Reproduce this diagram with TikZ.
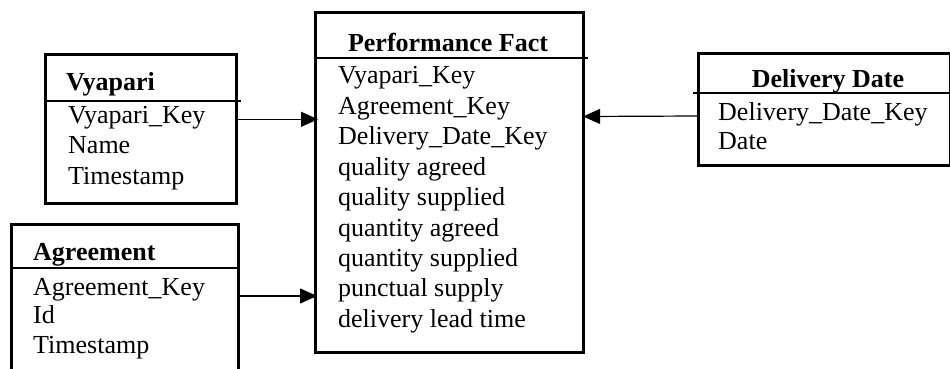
\documentclass[tikz,border=0pt]{standalone}
\usepackage{fontspec}
\setmainfont{Liberation Serif}
\usetikzlibrary{arrows.meta}
\begin{document}
\begin{tikzpicture}[x=1pt,y=-1pt,
  every node/.style={font=\fontsize{26}{30}\selectfont},
  entity/.style={draw, line width=2.6pt, rectangle, inner sep=0pt, anchor=north west},
  divider/.style={line width=1.1pt},
  title/.style={font=\fontsize{26}{30}\selectfont\bfseries, inner sep=0pt, anchor=base},
  attr/.style={inner sep=0pt, anchor=base west},
  link/.style={line width=1.2pt, -{Triangle[length=17pt,width=15pt]}}]
\useasboundingbox (0,0) rectangle (950,369);
\clip (0,0) rectangle (950,369);

% Vyapari dimension
\node[entity, minimum width=191pt, minimum height=149pt] (vy) at (44,53) {};
\draw[divider] (vy.west |- 0,101) -- ([xshift=3pt]vy.east |- 0,101);
\node[title, anchor=base west] (vyT) at (66,90) {Vyapari};
\node[attr] (vy1) at (68,123) {Vyapari\_Key};
\node[attr] (vy2) at (68,153) {Name};
\node[attr] (vy3) at (68,184) {Timestamp};

% Agreement dimension (runs past the lower edge)
\node[entity, minimum width=227pt, minimum height=160pt] (ag) at (10,223) {};
\draw[divider] (ag.west |- 0,268) -- (ag.east |- 0,268);
\node[title, anchor=base west] (agT) at (33,260) {Agreement};
\node[attr] (ag1) at (33,295) {Agreement\_Key};
\node[attr] (ag2) at (33,323) {Id};
\node[attr] (ag3) at (33,353) {Timestamp};

% Performance fact table
\node[entity, minimum width=268pt, minimum height=340pt] (pf) at (314,11) {};
\draw[divider] (pf.west |- 0,58) -- ([xshift=3pt]pf.east |- 0,58);
\node[title] (pfT) at (448,52) {Performance Fact};
\foreach \t [count=\i from 0] in {Vyapari\_Key, Agreement\_Key, Delivery\_Date\_Key,
    quality agreed, quality supplied, quantity agreed, quantity supplied,
    punctual supply, delivery lead time}
  \node[attr] (pf\i) at (338,{84+30.4*\i}) {\t};

% Delivery date dimension
\node[entity, minimum width=252pt, minimum height=112pt] (dd) at (697,52) {};
\draw[divider] ([xshift=-4pt]dd.west |- 0,93) -- (dd.east |- 0,93);
\node[title] (ddT) at (828,87) {Delivery Date};
\node[attr] (dd1) at (718,120) {Delivery\_Date\_Key};
\node[attr] (dd2) at (718,149) {Date};

% Foreign key links into the fact table
\draw[link, shorten >=-4pt] (vy.east |- 0,119.3) -- (pf.west |- 0,119.3);
\draw[link, shorten >=-3pt] (ag.east |- 0,296) -- (pf.west |- 0,296);
\draw[link, shorten >=-1.5pt] (dd.west |- 0,116) -- (pf.east |- 0,116.5);
\end{tikzpicture}
\end{document}
